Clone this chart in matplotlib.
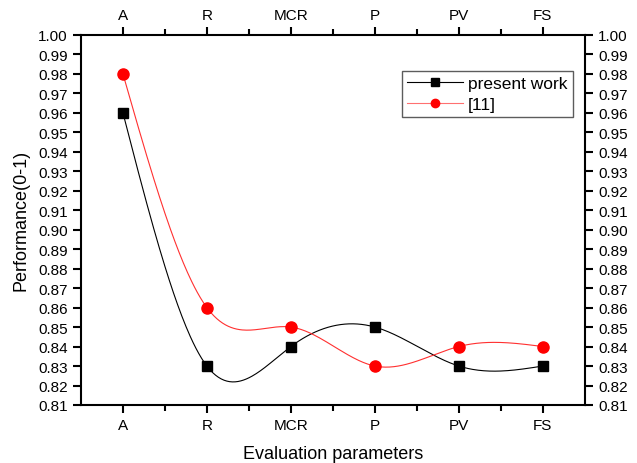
import numpy as np
import matplotlib
matplotlib.use('Agg')
import matplotlib.pyplot as plt

plt.rcParams['font.family'] = ['Liberation Sans', 'DejaVu Sans']

# categories and values
params = ['A', 'R', 'MCR', 'P', 'PV', 'FS']
present = [0.96, 0.83, 0.84, 0.85, 0.83, 0.83]
ref11 = [0.98, 0.86, 0.85, 0.83, 0.84, 0.84]


def natural_spline(x, y, n=300):
    # natural cubic spline through the points
    x = np.asarray(x, float)
    y = np.asarray(y, float)
    k = len(x)
    h = np.diff(x)
    A = np.zeros((k, k))
    r = np.zeros(k)
    A[0, 0] = A[-1, -1] = 1
    for i in range(1, k - 1):
        A[i, i - 1] = h[i - 1]
        A[i, i] = 2 * (h[i - 1] + h[i])
        A[i, i + 1] = h[i]
        r[i] = 6 * ((y[i + 1] - y[i]) / h[i] - (y[i] - y[i - 1]) / h[i - 1])
    m = np.linalg.solve(A, r)
    xs = np.linspace(x[0], x[-1], n)
    ys = np.empty_like(xs)
    for j, t in enumerate(xs):
        i = min(np.searchsorted(x, t, side='right') - 1, k - 2)
        a = x[i + 1] - t
        b = t - x[i]
        ys[j] = (m[i] * a ** 3 + m[i + 1] * b ** 3) / (6 * h[i]) \
            + (y[i] / h[i] - m[i] * h[i] / 6) * a \
            + (y[i + 1] / h[i] - m[i + 1] * h[i] / 6) * b
    return xs, ys


x = np.arange(1, len(params) + 1)

fig = plt.figure(figsize=(6.37, 4.64), dpi=100)
ax = fig.add_axes([0.127, 0.125, 0.791, 0.798])

xs, ys = natural_spline(x, present)
ax.plot(xs, ys, color='black', lw=0.8)
xs, ys = natural_spline(x, ref11)
ax.plot(xs, ys, color='#ff3030', lw=0.8)

ax.plot(x, present, 's', color='black', ms=7)
ax.plot(x, ref11, 'o', color='red', ms=8)

# legend handles
ax.plot([], [], '-s', color='black', lw=0.8, ms=6, label='present work')
ax.plot([], [], '-o', color='#ff7070', mfc='red', mec='red', lw=0.8, ms=6,
        label='[11]')
h, l = ax.get_legend_handles_labels()
leg = ax.legend(h[-2:], l[-2:], loc='upper right',
                bbox_to_anchor=(0.976, 0.903), fontsize=12.5, frameon=True,
                fancybox=False, edgecolor='#333333', handlelength=3.2,
                borderpad=0.3, labelspacing=0.35, handletextpad=0.3,
                borderaxespad=0)
leg.get_frame().set_linewidth(1.0)

ax.set_xlim(0.5, 6.5)
ax.set_ylim(0.81, 1.00)
ax.set_xticks(x)
ax.set_xticklabels(params)
ax.set_xticks(np.arange(1.5, 6.5, 1), minor=True)
ax.set_yticks(np.arange(0.81, 1.0001, 0.01))
ax.set_yticklabels(['%.2f' % v for v in np.arange(0.81, 1.0001, 0.01)])

ax.tick_params(which='both', direction='out', top=True, right=True,
               labeltop=True, labelright=True, labelsize=11, width=1.5,
               color='black')
ax.tick_params(which='major', length=6)
ax.tick_params(which='minor', length=4)
for s in ax.spines.values():
    s.set_linewidth(1.5)

ax.set_xlabel('Evaluation parameters', fontsize=13, labelpad=9)
ax.set_ylabel('Performance(0-1)', fontsize=13, labelpad=6)

plt.savefig('out.png')
